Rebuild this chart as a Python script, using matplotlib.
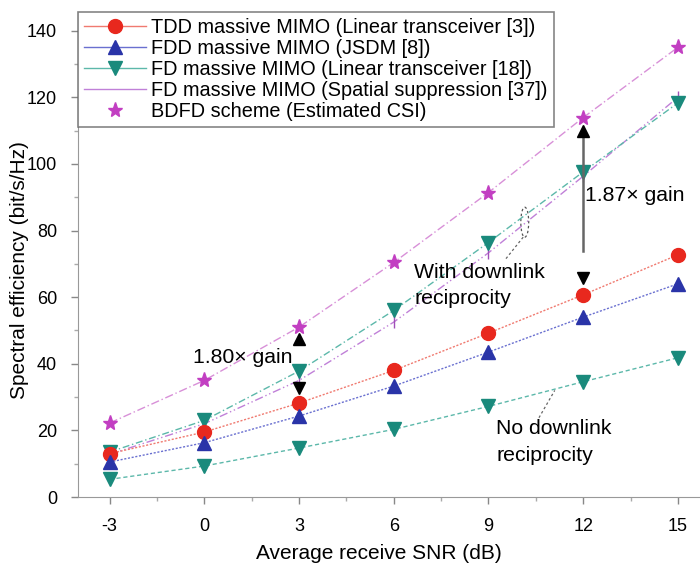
import matplotlib
matplotlib.use("Agg")
import matplotlib.pyplot as plt
from matplotlib.lines import Line2D
from matplotlib.patches import Ellipse
from matplotlib.ticker import MultipleLocator

plt.rcParams['font.family'] = ['Liberation Sans', 'DejaVu Sans']

snr = [-3, 0, 3, 6, 9, 12, 15]
tdd = [13.0, 19.5, 28.2, 38.0, 49.2, 60.7, 72.7]
fdd = [10.5, 16.3, 24.3, 33.3, 43.5, 54.0, 64.0]
fd_linear = [13.5, 23.0, 37.8, 56.0, 76.4, 97.6, 118.3]
fd_linear_norecip = [5.3, 9.3, 14.7, 20.3, 27.2, 34.6, 41.8]
fd_spatial = [12.8, 22.0, 35.0, 52.5, 73.3, 96.3, 120.0]
bdfd = [22.2, 35.0, 51.0, 70.4, 91.4, 113.9, 135.0]

labels = ["TDD massive MIMO (Linear transceiver [3])",
          "FDD massive MIMO (JSDM [8])",
          "FD massive MIMO (Linear transceiver [18])",
          "FD massive MIMO (Spatial suppression [37])",
          "BDFD scheme (Estimated CSI)"]

gain_x = [3, 12]
gain_top = [47.5, 110.0]
gain_bottom = [32.7, 65.8]
gain_text = ["1.80\u00d7 gain", "1.87\u00d7 gain"]

c_red = '#e8281e'
c_red_l = '#f07a70'
c_blue = '#2a34a8'
c_blue_l = '#6a70d0'
c_teal = '#1a8a7c'
c_teal_l = '#5cb8aa'
c_mag = '#c23fc2'
c_mag_l = '#d890d8'
c_pur_l = '#c080d8'

fig = plt.figure(figsize=(7.0, 5.71), dpi=100)
ax = fig.add_axes([78/700, 74/571, 622/700, 485/571])

lw = 1.0
ax.plot(snr, fd_spatial, color=c_pur_l, lw=lw, ls=(0, (6, 2, 1, 2, 1, 2)),
        marker='|', ms=8, mew=1.0, mec='#a050b8', zorder=2)
ax.plot(snr, bdfd, color=c_mag_l, lw=lw, ls=(0, (6, 2, 1, 2)), marker='*', ms=11,
        mfc=c_mag, mec=c_mag, zorder=3)
ax.plot(snr, fd_linear, color=c_teal_l, lw=lw, ls=(0, (5, 2, 1, 2)), marker='v', ms=10,
        mfc=c_teal, mec=c_teal, zorder=3)
ax.plot(snr, fd_linear_norecip, color=c_teal_l, lw=lw, ls=(0, (3, 2)), marker='v', ms=10,
        mfc=c_teal, mec=c_teal, zorder=3)
ax.plot(snr, tdd, color=c_red_l, lw=lw, ls=(0, (1.5, 1.2)), marker='o', ms=10,
        mfc=c_red, mec=c_red, zorder=3)
ax.plot(snr, fdd, color=c_blue_l, lw=lw, ls=(0, (1.5, 1.2)), marker='^', ms=10,
        mfc=c_blue, mec=c_blue, zorder=3)

# gain markers
ax.plot([12, 12], [74, 108], color='#666666', lw=1.8, zorder=4)
ax.plot(gain_x, gain_top, ls='none', marker='^', ms=8, color='black', zorder=5)
ax.plot(gain_x, gain_bottom, ls='none', marker='v', ms=8, color='black', zorder=5)
fs_ann = 15.3
ax.text(-0.37, 42.0, gain_text[0], fontsize=fs_ann, va='center', ha='left', zorder=6)
ax.text(12.05, 90.5, gain_text[1], fontsize=fs_ann, va='center', ha='left', zorder=6)

ax.text(6.65, 67.5, "With downlink", fontsize=fs_ann, va='center', ha='left')
ax.text(6.65, 59.6, "reciprocity", fontsize=fs_ann, va='center', ha='left')
ax.text(9.25, 20.5, "No downlink", fontsize=fs_ann, va='center', ha='left')
ax.text(9.25, 12.6, "reciprocity", fontsize=fs_ann, va='center', ha='left')

ax.add_patch(Ellipse((10.15, 82.5), 0.25, 9.0, fill=False, ls=(0, (2, 2)),
                     ec='#555555', lw=0.9))
ax.plot([10.1, 9.55], [78.0, 71.5], color='#666666', lw=0.9, ls=(0, (2, 2)))
ax.plot([10.6, 11.1], [23.8, 32.0], color='#666666', lw=0.9, ls=(0, (2, 2)))

ax.set_xlim(-4.0, 15.7)
ax.set_ylim(0, 145.6)
ax.xaxis.set_minor_locator(MultipleLocator(1.5))
ax.yaxis.set_major_locator(MultipleLocator(20))
ax.yaxis.set_minor_locator(MultipleLocator(10))
ax.set_xticks(snr)
ax.set_xticklabels(['-3', '0', '3', '6', '9', '12', '15'])
ax.tick_params(which='major', direction='out', length=5, width=1, color='#888888',
               labelsize=13)
ax.tick_params(axis='x', which='major', pad=10)
ax.tick_params(axis='y', which='major', pad=10)
ax.tick_params(which='minor', direction='out', length=3, width=1, color='#aaaaaa')
for s in ['top', 'right']:
    ax.spines[s].set_visible(False)
for s in ['left', 'bottom']:
    ax.spines[s].set_color('#999999')

ax.set_xlabel("Average receive SNR (dB)", fontsize=15)
ax.set_ylabel("Spectral efficiency (bit/s/Hz)", fontsize=15)
ax.xaxis.set_label_coords(0.484, -0.097)
ax.yaxis.set_label_coords(-0.078, 0.468)

handles = [
    Line2D([], [], color=c_red_l, lw=1, marker='o', ms=10, mfc=c_red, mec=c_red),
    Line2D([], [], color=c_blue_l, lw=1, marker='^', ms=10, mfc=c_blue, mec=c_blue),
    Line2D([], [], color=c_teal_l, lw=1, marker='v', ms=10, mfc=c_teal, mec=c_teal),
    Line2D([], [], color=c_pur_l, lw=1),
    Line2D([], [], ls='none', marker='*', ms=11, mfc=c_mag, mec=c_mag),
]
leg = ax.legend(handles, labels, loc='upper left', bbox_to_anchor=(0, 1),
                borderaxespad=0, fontsize=14.3, frameon=True, fancybox=False,
                handlelength=3.1, handletextpad=0.3, labelspacing=0.1,
                borderpad=0.3)
leg.get_frame().set_edgecolor('#666666')
leg.get_frame().set_linewidth(1.2)
leg.set_zorder(10)

fig.savefig("out.png", dpi=100)
